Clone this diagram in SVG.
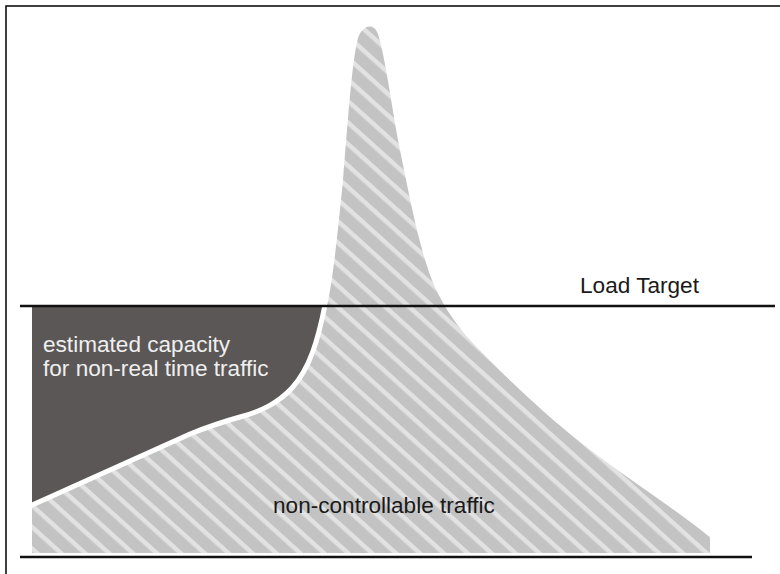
<svg xmlns="http://www.w3.org/2000/svg" width="780" height="574" viewBox="0 0 780 574">
  <defs>
    <pattern id="hatch" patternUnits="userSpaceOnUse" width="10" height="16" patternTransform="rotate(42)">
      <rect x="0" y="0" width="10" height="16" fill="#c3c3c3"/>
      <rect x="0" y="0" width="10" height="4.5" fill="#e2e2e2"/>
    </pattern>
  </defs>
  <style>
    .lbl { font-family: "Liberation Sans", Arial, sans-serif; font-size: 22.6px; }
    .dark-txt { fill: #efefef; }
    .black-txt { fill: #1a1a1a; }
    .rule { stroke: #111111; stroke-width: 2.5; fill: none; }
    .frame { stroke: #000000; stroke-width: 1.5; fill: none; }
  </style>
  <rect x="0" y="0" width="780" height="574" fill="#ffffff"/>
  <g id="frame">
    <path class="frame" d="M6,574 L6,6 L780,6"/>
  </g>
  <g id="non-controllable-traffic">
    <path fill="url(#hatch)" d="M32,505 L190,434 C210,426 222,422 240,417 C262,411 278,403 292,388 C310,368 318,340 324,306 L327,306 C333,280 338,230 343,180 C348,120 352,60 358,38 C362,25 374,22 378,34 C386,60 392,110 400,150 C410,200 420,250 432,280 C440,300 452,320 470,340 C500,372 540,410 580,442 C620,474 670,505 710,537 L710,553 L32,553 Z"/>
  </g>
  <g id="estimated-capacity">
    <path fill="#5b5756" d="M32,307 L325,307 C318,340 310,368 292,388 C278,403 262,411 240,417 C222,422 210,426 190,434 L32,505 Z"/>
  </g>
  <g id="connectors">
    <path fill="none" stroke="#ffffff" stroke-width="5" d="M325,305 C318,340 310,368 292,388 C278,403 262,411 240,417 C222,422 210,426 190,434 L30,506"/>
    <line class="rule" x1="20" y1="306" x2="775" y2="306"/>
    <line class="rule" x1="20" y1="557" x2="752" y2="557"/>
  </g>
  <g id="labels">
    <text class="lbl black-txt" x="580" y="293">Load Target</text>
    <text class="lbl dark-txt" x="43" y="352">estimated capacity</text>
    <text class="lbl dark-txt" x="43" y="376">for non-real time traffic</text>
    <text class="lbl black-txt" x="273" y="513">non-controllable traffic</text>
  </g>
</svg>
